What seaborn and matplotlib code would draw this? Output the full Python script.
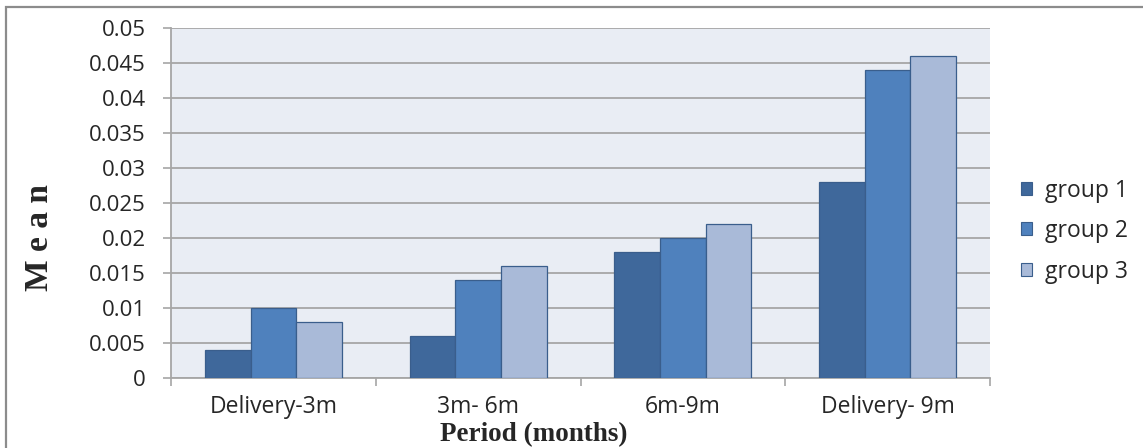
import matplotlib
matplotlib.use("Agg")
import matplotlib.pyplot as plt
from matplotlib.patches import Rectangle, Patch
import seaborn as sns
import pandas as pd

# Mean values per follow-up period for each group
periods = ["Delivery-3m", "3m- 6m", "6m-9m", "Delivery- 9m"]
groups = ["group 1", "group 2", "group 3"]
group1 = [0.004, 0.006, 0.018, 0.028]
group2 = [0.010, 0.014, 0.020, 0.044]
group3 = [0.008, 0.016, 0.022, 0.046]
y_ticks = [0, 0.005, 0.01, 0.015, 0.02, 0.025, 0.03, 0.035, 0.04, 0.045, 0.05]
y_tick_labels = ["0", "0.005", "0.01", "0.015", "0.02", "0.025", "0.03",
                 "0.035", "0.04", "0.045", "0.05"]

df = pd.DataFrame({
    "Period": periods * 3,
    "Group": [g for g in groups for _ in periods],
    "Mean": group1 + group2 + group3,
})

colors = ["#3F689B", "#4F81BD", "#A9BAD8"]
edge = "#3A5E8C"
tick_font = "Open Sans"

sns.set_theme(style="white")
fig = plt.figure(figsize=(11.43, 4.48), dpi=100)
fig.patch.set_facecolor("white")
W, H = 1143, 448
ax = fig.add_axes([171 / W, 1 - 378 / H, (990 - 171) / W, (378 - 28) / H])
ax.set_facecolor("#E9EDF4")

sns.barplot(data=df, x="Period", y="Mean", hue="Group", order=periods,
            hue_order=groups, palette=colors, width=0.67, gap=0,
            edgecolor=edge, linewidth=0.9, saturation=1, errorbar=None,
            legend=False, ax=ax, zorder=3)

ax.set_ylim(0, 0.05)
ax.set_xlim(-0.5, len(periods) - 0.5)
ax.set_yticks(y_ticks)
ax.set_yticklabels(y_tick_labels, fontfamily=tick_font, fontsize=16, color="#262626")
ax.yaxis.grid(True, color="#A6A6A6", linewidth=1.3, zorder=1)
ax.set_axisbelow(True)

# category labels centred, tick marks on category boundaries
ax.set_xticks(range(len(periods)))
ax.set_xticklabels(periods, fontfamily=tick_font, fontsize=16.5, color="#262626")
ax.set_xticks([i - 0.5 for i in range(len(periods) + 1)], minor=True)
ax.tick_params(axis="x", which="major", length=0, pad=12.5)
ax.tick_params(axis="x", which="minor", length=6, width=1.2, color="#A6A6A6",
               direction="out", bottom=True)
ax.tick_params(axis="y", which="major", length=6, width=1.2, color="#A6A6A6",
               direction="out", left=True, pad=12)

for side in ["top", "right"]:
    ax.spines[side].set_visible(False)
for side in ["left", "bottom"]:
    ax.spines[side].set_color("#A6A6A6")
    ax.spines[side].set_linewidth(1.3)
ax.set_xlabel("")
ax.set_ylabel("")

fig.text(40 / W, 1 - 238 / H, "M e a n", rotation=90, ha="center", va="center",
         fontfamily="Liberation Serif", fontweight="bold", fontsize=24)
fig.text(534 / W, 1 - 441.5 / H, "Period (months)", ha="center", va="baseline",
         fontfamily="Liberation Serif", fontweight="bold", fontsize=19.5)

handles = [Patch(facecolor=c, edgecolor=edge, linewidth=0.8) for c in colors]
fig.legend(handles, groups, loc="center left",
           bbox_to_anchor=(1021 / W, 1 - 231 / H), frameon=False,
           prop={"family": tick_font, "size": 16.5}, labelspacing=0.72,
           handlelength=0.5, handleheight=0.5, handletextpad=0.55,
           borderpad=0, borderaxespad=0, labelcolor="#262626")

# outer chart border
fig.patches.append(Rectangle((6 / W, -0.1), 1.2, 1.1 - 7 / H,
                             transform=fig.transFigure, fill=False,
                             edgecolor="#8C8C8C", linewidth=1.6))

fig.savefig("out.png", dpi=100)
